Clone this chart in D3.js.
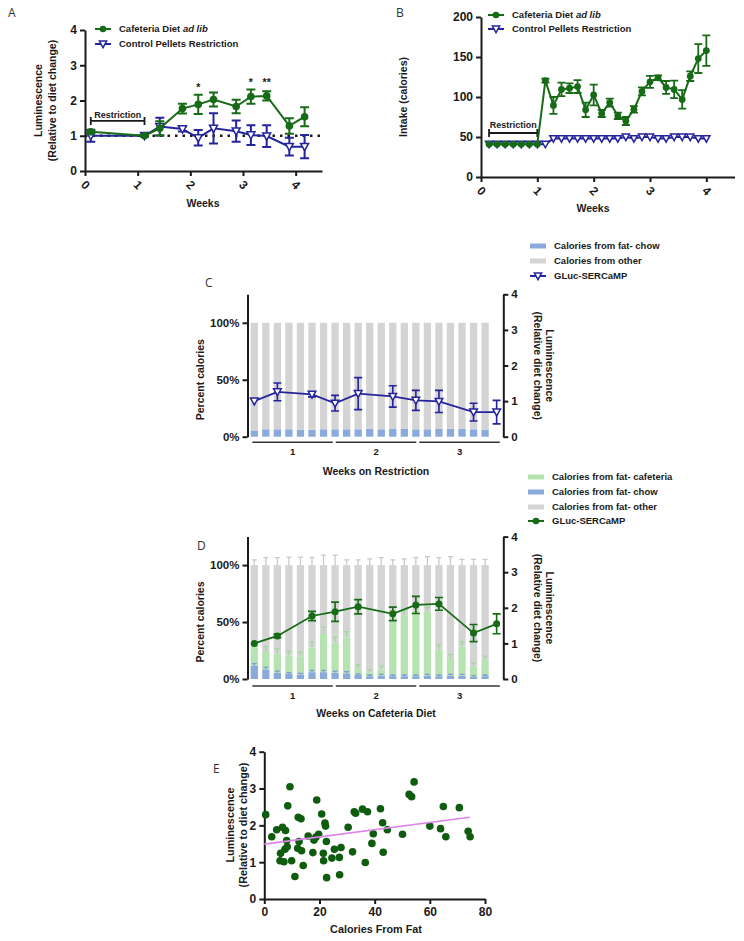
<!DOCTYPE html>
<html><head><meta charset="utf-8">
<script src="https://cdn.jsdelivr.net/npm/d3@7"></script>
<style>
body{margin:0;background:#fff;}
svg{display:block;}
</style></head><body>
<svg id="chart" width="744" height="941"></svg>
<script>
// ---------- DATA ----------
// Panel A
const weeksA = [0.11, 1.13, 1.42, 1.85, 2.15, 2.44, 2.87, 3.15, 3.45, 3.88, 4.17];
const cafA = [1.11, 1.0, 1.21, 1.77, 1.89, 2.03, 1.83, 2.11, 2.13, 1.28, 1.54];
const cafAErr = [0.04, 0.02, 0.2, 0.14, 0.27, 0.2, 0.19, 0.2, 0.13, 0.22, 0.27];
const ctrlA = [1.0, 1.0, 1.26, 1.19, 0.94, 1.21, 1.13, 1.02, 0.99, 0.69, 0.69];
const ctrlAErr = [0.17, 0.02, 0.25, 0.07, 0.22, 0.43, 0.3, 0.28, 0.31, 0.25, 0.33];
const starsA = [{w: 2.15, v: 2.45, t: "*"}, {w: 3.15, v: 2.58, t: "*"}, {w: 3.45, v: 2.58, t: "**"}];
const weekTicks = [0, 1, 2, 3, 4];
const lumTicks = [0, 1, 2, 3, 4];

// Panel B (days)
const daysB = [1,2,3,4,5,6,7,8,9,10,11,12,13,14,15,16,17,18,19,20,21,22,23,24,25,26,27,28];
const cafB = [41,41,41,41,41,41,41,120.5,89.5,109.5,111,113,84,102.5,79.5,93,76.5,70,84.5,107,119,124,112,109.5,97,126,148,158];
const cafBErr = [0,0,0,0,0,0,0,2.5,10.5,8.5,6,8,9,13,4.5,5,4,5,4,5,7.5,3,8,11,11.5,6,18,19];
const ctrlB = [41,41,41,41,41,41,41,41,48,48,48,48,48,48,48,48,48,50,48,50,50,48,48,50,50,50,48,48];
const intakeTicks = [0, 50, 100, 150, 200];

// Panel C / D (21 daily bars)
const barDays = [1,2,3,4,5,6,7,8,9,10,11,12,13,14,15,16,17,18,19,20,21];
const chowFatC = [5.5,6.5,6.5,6.5,6,6,6.5,6.5,6.5,6.5,7,6.5,7,7,6.5,6.5,7,7,7,6.5,6];
const lumDays = [0,2,5,7,9,12,14,16,19,21];
const lumC = [1.0,1.26,1.19,0.94,1.21,1.13,1.02,0.99,0.69,0.69];
const lumCErr = [0,0.25,0.07,0.22,0.45,0.3,0.28,0.31,0.25,0.33];

const chowFatD = [11.5,8.5,5.5,4.5,4,6,6,5.5,5,3.5,2.5,3,2.5,2.5,2.5,3,2.5,3,3,2,2.5];
const chowFatDErr = [2,2,1.5,1,1,1.5,1.5,1.5,1.5,1,1,1,1,1,1,1,1,1,1,1,1];
const cafFatD = [17.5,16,17,16,15.5,21.5,33.5,26.5,31.5,6,3.5,5.5,47.5,53.5,57.5,56,23.5,15.5,25.5,9,14.5];
const cafFatDErr = [4,4,4,4,4,5,6,5,5,3,2,3,5,5,4,4,4,3,4,3,3];
const otherDErr = [4.5,6.5,6.5,7,7,6.5,8.7,8.7,4.5,4.5,5.5,6.5,4.5,5.5,6.5,7.5,6.5,7.5,5,5,5];
const lumD = [1.0,1.21,1.77,1.89,2.03,1.83,2.08,2.11,1.29,1.55];
const lumDErr = [0,0.05,0.13,0.27,0.2,0.19,0.24,0.18,0.24,0.28];
const pctTicks = [0, 50, 100];
const weekGroups = ["1", "2", "3"];

// Panel E
const fatE = [0.5,2.7,4.5,5.7,5.9,6.6,7.1,7.5,7.7,8.1,8.3,8.5,9.3,9.9,11.1,12.1,12.3,12.6,13.3,13.5,14.1,15.9,17.6,18.0,18.7,19.0,19.7,20.8,21.4,21.5,22.0,22.2,22.5,22.6,24.5,25.4,27.2,27.3,27.8,30.4,32.0,32.6,33.1,35.6,36.6,37.4,39.0,39.5,42.1,42.9,43.1,44.6,50.1,52.5,53.4,54.3,60.0,63.9,64.9,65.8,70.7,73.9,74.6];
const lumE = [2.29,1.69,1.88,1.04,1.24,1.95,1.01,1.35,1.86,1.59,1.42,2.53,3.05,1.04,0.61,1.38,2.22,1.56,2.18,1.31,0.91,1.71,1.26,1.60,1.68,2.69,1.76,2.31,1.24,1.04,2.06,1.98,1.56,0.58,1.11,1.35,1.13,0.66,1.40,1.95,1.28,2.37,2.33,2.44,0.99,2.37,1.51,1.77,2.45,2.07,1.27,1.88,1.76,2.84,2.78,3.18,1.98,1.91,2.51,1.69,2.48,1.84,1.69];
const fitE = [[0, 1.49], [74.5, 2.22]];
const fatTicks = [0, 20, 40, 60, 80];

// ---------- STYLE ----------
const FONT = '"Liberation Sans", Arial, sans-serif';
const GREEN = "#176b17", BLUE = "#24249c", DKGREEN = "#0f5c0f";
const GRAY = "#d4d4d4", LBLUE = "#8aaadb", LGREEN = "#b6e3b1", PINK = "#dc84e8";
const INK = "#1a1a1a";

const svg = d3.select("#chart");

function styleAxis(g, fs){
  g.attr("font-family", FONT);
  g.select(".domain").attr("stroke", INK).attr("stroke-width", 2);
  g.selectAll(".tick line").attr("stroke", INK).attr("stroke-width", 2);
  g.selectAll(".tick text").attr("font-family", FONT).attr("font-weight", "bold")
    .attr("font-size", (fs || 11) + "px").attr("fill", INK);
}
function txt(x, y, s, opts){
  opts = opts || {};
  const t = svg.append("text").attr("x", x).attr("y", y).text(s)
    .attr("font-family", opts.family || FONT)
    .attr("font-weight", opts.weight || "bold")
    .attr("font-size", (opts.size || 10.5) + "px")
    .attr("fill", opts.fill || INK)
    .attr("text-anchor", opts.anchor || "middle");
  if (opts.rotate !== undefined) t.attr("transform", `rotate(${opts.rotate},${x},${y})`);
  if (opts.dy) t.attr("dy", opts.dy);
  return t;
}
function panelLabel(x, y, s){
  txt(x, y, s, {family: '"Open Sans", "DejaVu Sans", sans-serif', weight: "normal", size: 12, anchor: "start", fill: "#333"});
}
function errBars(g, pts, xs, ys, color, cap, sw){
  g.append("g").attr("stroke", color).attr("stroke-width", sw).attr("fill", "none")
    .selectAll("path").data(pts.filter(d => d.e > 0)).join("path")
    .attr("d", d => {
      const cx = xs(d.x), t = ys(d.y + d.e), b = ys(d.y - d.e);
      return `M${cx},${t}V${b}M${cx-cap},${t}H${cx+cap}M${cx-cap},${b}H${cx+cap}`;
    });
}
const triPath = s => `M${-s},${-s*0.8}L${s},${-s*0.8}L0,${s}Z`;
function circles(g, pts, xs, ys, color, r){
  g.append("g").selectAll("circle").data(pts).join("circle")
    .attr("cx", d => xs(d.x)).attr("cy", d => ys(d.y)).attr("r", r).attr("fill", color);
}
function triangles(g, pts, xs, ys, color, s){
  g.append("g").selectAll("path").data(pts).join("path")
    .attr("transform", d => `translate(${xs(d.x)},${ys(d.y)})`)
    .attr("d", triPath(s)).attr("fill", "#fff").attr("stroke", color).attr("stroke-width", 1.5);
}
function line(g, pts, xs, ys, color, sw){
  g.append("path").datum(pts).attr("fill", "none").attr("stroke", color).attr("stroke-width", sw)
    .attr("d", d3.line().x(d => xs(d.x)).y(d => ys(d.y)));
}
function legendLineRow(x0, y, color, kind, label, italicPart){
  svg.append("line").attr("x1", x0).attr("x2", x0 + 16).attr("y1", y).attr("y2", y)
    .attr("stroke", color).attr("stroke-width", 2);
  if (kind === "circle") svg.append("circle").attr("cx", x0 + 8).attr("cy", y).attr("r", 3.3).attr("fill", color);
  else svg.append("path").attr("transform", `translate(${x0+8},${y})`).attr("d", triPath(3.6))
    .attr("fill", "#fff").attr("stroke", color).attr("stroke-width", 1.5);
  const t = txt(x0 + 24, y, label, {anchor: "start", size: 9.5, dy: "0.35em"});
  if (italicPart) t.append("tspan").attr("font-style", "italic").text(italicPart);
}
function legendSwatch(x0, y, color, label){
  svg.append("rect").attr("x", x0).attr("y", y - 2.5).attr("width", 16).attr("height", 5).attr("fill", color);
  txt(x0 + 24, y, label, {anchor: "start", size: 9.5, dy: "0.35em"});
}
function rotatedXTicks(g, off){
  g.selectAll(".tick text").attr("y", 0).attr("dy", "0.35em").attr("text-anchor", "middle")
    .attr("transform", `translate(0,${off}) rotate(45)`);
}

// ---------- PANEL A ----------
panelLabel(8, 17, "A");
{
  const x = d3.scaleLinear([0, 4.5], [85, 322]);
  const y = d3.scaleLinear([0, 4], [171, 30]);
  const g = svg.append("g");
  // dotted baseline
  g.append("line").attr("x1", x(0)).attr("x2", x(4.5)).attr("y1", y(1)).attr("y2", y(1))
    .attr("stroke", INK).attr("stroke-width", 2.5).attr("stroke-dasharray", "2.5,5");
  const ya = g.append("g").attr("transform", "translate(85,0)")
    .call(d3.axisLeft(y).tickValues(lumTicks).tickSize(5).tickSizeOuter(0).tickFormat(d3.format("d")));
  styleAxis(ya, 12);
  const xa = g.append("g").attr("transform", "translate(0,171)")
    .call(d3.axisBottom(x).tickValues(weekTicks).tickSize(5).tickSizeOuter(0).tickFormat(d3.format("d")));
  styleAxis(xa, 12); rotatedXTicks(xa, 14);
  // restriction bracket
  g.append("path").attr("d", `M${x(0.11)},${y(1.42)-4}V${y(1.42)+4}M${x(0.11)},${y(1.42)}H${x(1.13)}M${x(1.13)},${y(1.42)-4}V${y(1.42)+4}`)
    .attr("stroke", INK).attr("stroke-width", 1.8).attr("fill", "none");
  txt((x(0.11)+x(1.13))/2, y(1.42) - 3, "Restriction", {size: 9});

  const cafPts = weeksA.map((w, i) => ({x: w, y: cafA[i], e: cafAErr[i]}));
  const ctrlPts = weeksA.map((w, i) => ({x: w, y: ctrlA[i], e: ctrlAErr[i]}));
  errBars(g, ctrlPts, x, y, BLUE, 4.5, 2);
  line(g, ctrlPts, x, y, BLUE, 2);
  triangles(g, ctrlPts, x, y, BLUE, 4);
  errBars(g, cafPts, x, y, GREEN, 4.5, 2);
  line(g, cafPts, x, y, GREEN, 2);
  circles(g, cafPts, x, y, GREEN, 3.8);
  starsA.forEach(s => txt(x(s.w), y(s.v) + 6, s.t, {size: 10.5}));

  txt(203, 207, "Weeks", {size: 10.5});
  txt(42, 100.5, "Luminescence", {rotate: -90, size: 10.5});
  txt(56, 100.5, "(Relative to diet change)", {rotate: -90, size: 10.5});
  legendLineRow(95, 29, GREEN, "circle", "Cafeteria Diet ", "ad lib");
  legendLineRow(95, 44, BLUE, "tri", "Control Pellets Restriction");
}

// ---------- PANEL B ----------
panelLabel(396, 17, "B");
{
  const x = d3.scaleLinear([0, 31.5], [481, 734.5]);
  const y = d3.scaleLinear([0, 200], [177, 17]);
  const g = svg.append("g");
  const ya = g.append("g").attr("transform", "translate(481,0)")
    .call(d3.axisLeft(y).tickValues(intakeTicks).tickSize(5).tickSizeOuter(0));
  styleAxis(ya, 12);
  const xa = g.append("g").attr("transform", "translate(0,177)")
    .call(d3.axisBottom(x).tickValues(weekTicks.map(w => w * 7)).tickSize(5).tickSizeOuter(0).tickFormat(d => d / 7));
  styleAxis(xa, 12); rotatedXTicks(xa, 14);
  g.append("path").attr("d", `M${x(1)},${y(55)-4}V${y(55)+4}M${x(1)},${y(55)}H${x(7)}M${x(7)},${y(55)-4}V${y(55)+4}`)
    .attr("stroke", INK).attr("stroke-width", 1.8).attr("fill", "none");
  txt((x(1)+x(7))/2, y(55) - 5, "Restriction", {size: 9});

  const cafPts = daysB.map((d, i) => ({x: d, y: cafB[i], e: cafBErr[i]}));
  const ctrlPts = daysB.map((d, i) => ({x: d, y: ctrlB[i], e: 0}));
  line(g, ctrlPts, x, y, BLUE, 2);
  triangles(g, ctrlPts, x, y, BLUE, 3.6);
  errBars(g, cafPts, x, y, GREEN, 4, 1.8);
  line(g, cafPts, x, y, GREEN, 2);
  circles(g, cafPts, x, y, GREEN, 3.4);

  txt(593, 212, "Weeks", {size: 10.5});
  txt(407, 97, "Intake (calories)", {rotate: -90, size: 10.5});
  legendLineRow(488, 15, GREEN, "circle", "Cafeteria Diet ", "ad lib");
  legendLineRow(488, 29, BLUE, "tri", "Control Pellets Restriction");
}

// ---------- PANELS C & D ----------
function comboPanel(o){
  const x = d3.scaleLinear([0, 20], [254.3, 485.1]);
  const yL = d3.scaleLinear([0, 125], [o.base, o.base - 142.4]);
  const yR = d3.scaleLinear([0, 4], [o.base, o.base - 142.4]);
  const g = svg.append("g");
  const rows = barDays.map((d, i) => {
    const r = {i};
    o.keys.forEach(k => r[k] = o.vals[k][i]);
    return r;
  });
  const series = d3.stack().keys(o.keys)(rows);
  const bw = 7.3;
  series.forEach(s => {
    g.append("g").attr("fill", o.colors[s.key]).selectAll("rect").data(s).join("rect")
      .attr("x", d => x(d.data.i) - bw / 2).attr("width", bw)
      .attr("y", d => yL(d[1])).attr("height", d => yL(d[0]) - yL(d[1]));
  });
  // bar error bars (upward)
  if (o.errs) {
    series.forEach(s => {
      const errArr = o.errs[s.key];
      if (!errArr) return;
      g.append("g").attr("stroke", o.errColors[s.key]).attr("stroke-width", 1.3).attr("fill", "none")
        .selectAll("path").data(s).join("path")
        .attr("d", (d, i) => {
          const cx = x(d.data.i), t = yL(d[1] + errArr[i]), b = yL(d[1]);
          return `M${cx},${b}V${t}M${cx-2.5},${t}H${cx+2.5}`;
        });
    });
  }
  const la = g.append("g").attr("transform", "translate(247.5,0)")
    .call(d3.axisLeft(yL).tickValues(pctTicks).tickSize(5).tickSizeOuter(0).tickFormat(d => d + "%"));
  styleAxis(la, 11.5);
  const ra = g.append("g").attr("transform", "translate(503.3,0)")
    .call(d3.axisRight(yR).tickValues(lumTicks).tickSize(5).tickSizeOuter(0).tickFormat(d3.format("d")));
  styleAxis(ra, 11.5);

  const pts = lumDays.map((d, i) => ({x: d, y: o.lum[i], e: o.lumErr[i]}));
  errBars(g, pts, x, yR, o.lineColor, 4, 1.6);
  line(g, pts, x, yR, o.lineColor, 1.8);
  if (o.marker === "circle") circles(g, pts, x, yR, o.lineColor, 3.5);
  else triangles(g, pts, x, yR, o.lineColor, 3.8);

  // week brackets
  const gx = d3.scaleLinear([0, 3], [250.8, 501.3]);
  weekGroups.forEach((w, k) => {
    g.append("line").attr("x1", gx(k) + 1.5).attr("x2", gx(k + 1) - 1.5)
      .attr("y1", o.base + o.brOff).attr("y2", o.base + o.brOff).attr("stroke", "#333").attr("stroke-width", 1.4);
    txt(gx(k + 0.5), o.base + o.brOff + 13, w, {size: 9.5});
  });
  txt(376, o.base + 38, o.title, {size: 10.5});
  txt(204, o.base - 57, "Percent calories", {rotate: -90, size: 10.5});
  txt(546, o.base - 71, "Luminescence", {rotate: 90, size: 10.5});
  txt(534, o.base - 71, "(Relative diet change)", {rotate: 90, size: 10.5});
}

panelLabel(205, 287, "C");
comboPanel({
  base: 436.7, keys: ["chow", "other"],
  vals: {chow: chowFatC, other: chowFatC.map(v => 100 - v)},
  colors: {chow: LBLUE, other: GRAY},
  lum: lumC, lumErr: lumCErr, lineColor: BLUE, marker: "tri",
  brOff: 5.6, title: "Weeks on Restriction"
});
legendSwatch(530, 246, LBLUE, "Calories from fat- chow");
legendSwatch(530, 261, GRAY, "Calories from other");
legendLineRow(530, 276, BLUE, "tri", "GLuc-SERCaMP");

panelLabel(197, 550, "D");
comboPanel({
  base: 679, keys: ["chow", "caf", "other"],
  vals: {chow: chowFatD, caf: cafFatD, other: chowFatD.map((v, i) => 100 - v - cafFatD[i])},
  colors: {chow: LBLUE, caf: LGREEN, other: GRAY},
  errs: {chow: chowFatDErr, caf: cafFatDErr, other: otherDErr},
  errColors: {chow: "#7d9fd6", caf: "#a4d89e", other: "#c9c9c9"},
  lum: lumD, lumErr: lumDErr, lineColor: GREEN, marker: "circle",
  brOff: 7, title: "Weeks on Cafeteria Diet"
});
legendSwatch(528, 477, LGREEN, "Calories from fat- cafeteria");
legendSwatch(528, 492, LBLUE, "Calories from fat- chow");
legendSwatch(528, 507, GRAY, "Calories from fat- other");
legendLineRow(528, 521, GREEN, "circle", "GLuc-SERCaMP");

// ---------- PANEL E ----------
panelLabel(213, 773, "E");
{
  const x = d3.scaleLinear([0, 80], [264.3, 485]);
  const y = d3.scaleLinear([0, 4], [899, 751.7]);
  const g = svg.append("g");
  const ya = g.append("g").attr("transform", "translate(264.3,0)")
    .call(d3.axisLeft(y).tickValues(lumTicks).tickSize(5).tickSizeOuter(0).tickFormat(d3.format("d")));
  styleAxis(ya, 12);
  const xa = g.append("g").attr("transform", "translate(0,899)")
    .call(d3.axisBottom(x).tickValues(fatTicks).tickSize(5).tickSizeOuter(0));
  styleAxis(xa, 12);
  xa.selectAll(".tick text").attr("y", 8);
  const pts = fatE.map((f, i) => ({x: f, y: lumE[i]}));
  circles(g, pts, x, y, DKGREEN, 3.8);
  g.append("line").attr("x1", x(fitE[0][0])).attr("y1", y(fitE[0][1]))
    .attr("x2", x(fitE[1][0])).attr("y2", y(fitE[1][1])).attr("stroke", PINK).attr("stroke-width", 1.6);
  txt(376, 933, "Calories From Fat", {size: 10.8});
  txt(234, 825, "Luminescence", {rotate: -90, size: 10.8});
  txt(246.5, 825, "(Relative to diet change)", {rotate: -90, size: 10.8});
}
</script>
</body></html>
